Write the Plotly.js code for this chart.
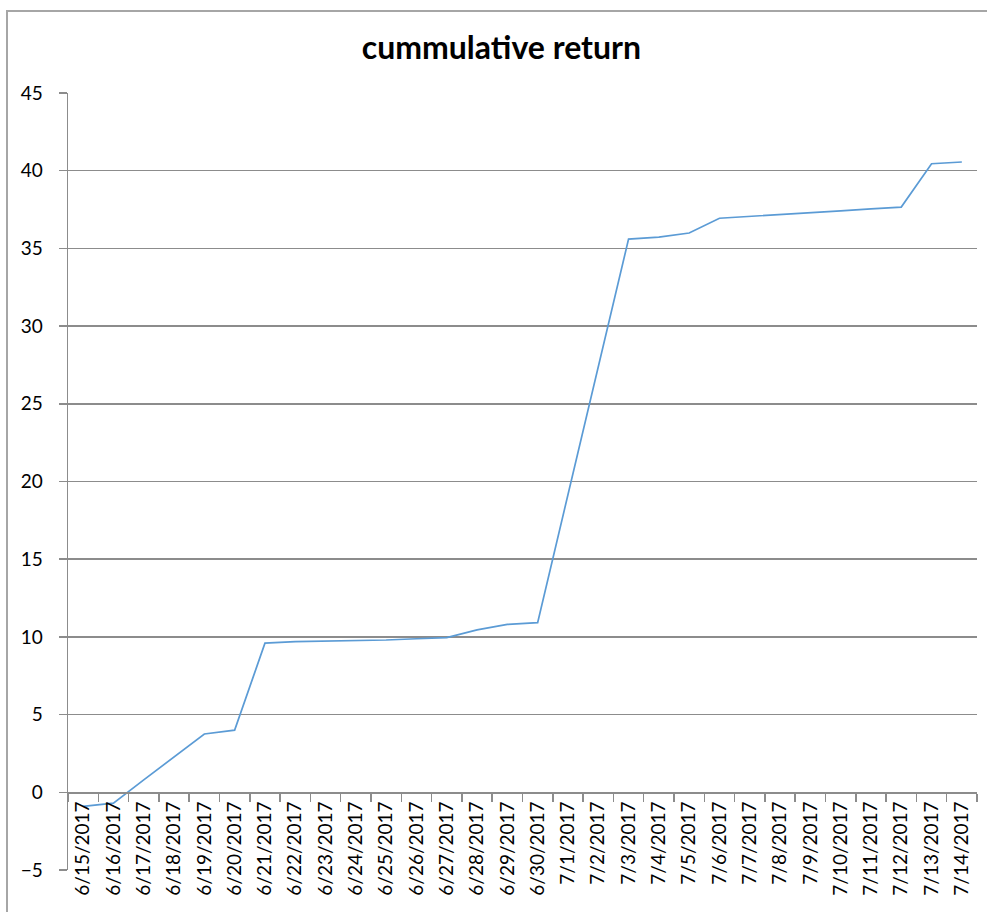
<!DOCTYPE html>
<html>
<head>
<meta charset="utf-8">
<script src="https://cdn.plot.ly/plotly-3.0.1.min.js"></script>
<style>
  html, body { margin: 0; padding: 0; background: #fff; }
  #wrap { position: relative; width: 987px; height: 912px; overflow: hidden; }
  #frame { position: absolute; left: 6px; top: 10px; width: 1000px; height: 1000px;
           border-left: 2px solid #a6a6a6; border-top: 2px solid #a6a6a6; box-sizing: border-box; pointer-events: none; }
  #chart { position: absolute; left: 0; top: 0; width: 987px; height: 912px; }
</style>
</head>
<body>
<div id="wrap">
  <div id="chart"></div>
  <div id="frame"></div>
</div>
<script>
const dates = ["6/15/2017","6/16/2017","6/17/2017","6/18/2017","6/19/2017","6/20/2017","6/21/2017","6/22/2017","6/23/2017","6/24/2017",
               "6/25/2017","6/26/2017","6/27/2017","6/28/2017","6/29/2017","6/30/2017","7/1/2017","7/2/2017","7/3/2017","7/4/2017",
               "7/5/2017","7/6/2017","7/7/2017","7/8/2017","7/9/2017","7/10/2017","7/11/2017","7/12/2017","7/13/2017","7/14/2017"];
const cumReturn = [-0.9, -0.7, 0.8, 2.3, 3.75, 4.0, 9.6, 9.7, 9.72, 9.76,
                   9.8, 9.88, 9.95, 10.45, 10.8, 10.92, 19.1, 27.35, 35.6, 35.73,
                   35.99, 36.94, 37.05, 37.17, 37.3, 37.42, 37.54, 37.66, 40.45, 40.56];
const yTicks = [-5, 0, 5, 10, 15, 20, 25, 30, 35, 40, 45];
const chartTitle = "cummulative return";

const FONT = "Lato, 'Liberation Sans', sans-serif";
const trace = {
  x: dates, y: cumReturn, type: "scatter", mode: "lines",
  line: { color: "#5b9bd5", width: 1.7 }, hoverinfo: "x+y"
};
const layout = {
  width: 987, height: 912,
  margin: { l: 68, r: 10, t: 93, b: 42 },
  paper_bgcolor: "#fff", plot_bgcolor: "#fff",
  showlegend: false,
  title: { text: chartTitle, font: { family: FONT, size: 32, color: "#000", weight: "bold" },
           x: 0.508, xref: "container", xanchor: "center", y: 1 - 48/912, yref: "container", yanchor: "middle" },
  xaxis: {
    type: "category", range: [-0.5, 29.5], anchor: "free", position: 0.1,
    showline: true, linecolor: "#8c8c8c", linewidth: 1.5,
    ticks: "outside", tickson: "boundaries", ticklen: 8, tickcolor: "#8c8c8c", tickwidth: 1.5,
    tickangle: -90, dtick: 1, showgrid: false, zeroline: false,
    tickfont: { family: FONT, size: 19, color: "#000" }
  },
  yaxis: {
    range: [-5, 45], tickmode: "array", tickvals: yTicks,
    showline: true, linecolor: "#8c8c8c", linewidth: 1.5,
    ticks: "outside", ticklen: 8, tickcolor: "#8c8c8c", tickwidth: 1.5,
    showgrid: true, gridcolor: "#8c8c8c", gridwidth: 1.5, zeroline: false,
    ticklabelstandoff: 12,
    tickfont: { family: FONT, size: 19, color: "#000" }
  }
};
Plotly.newPlot("chart", [trace], layout, { displayModeBar: false, staticPlot: true });
</script>
</body>
</html>
